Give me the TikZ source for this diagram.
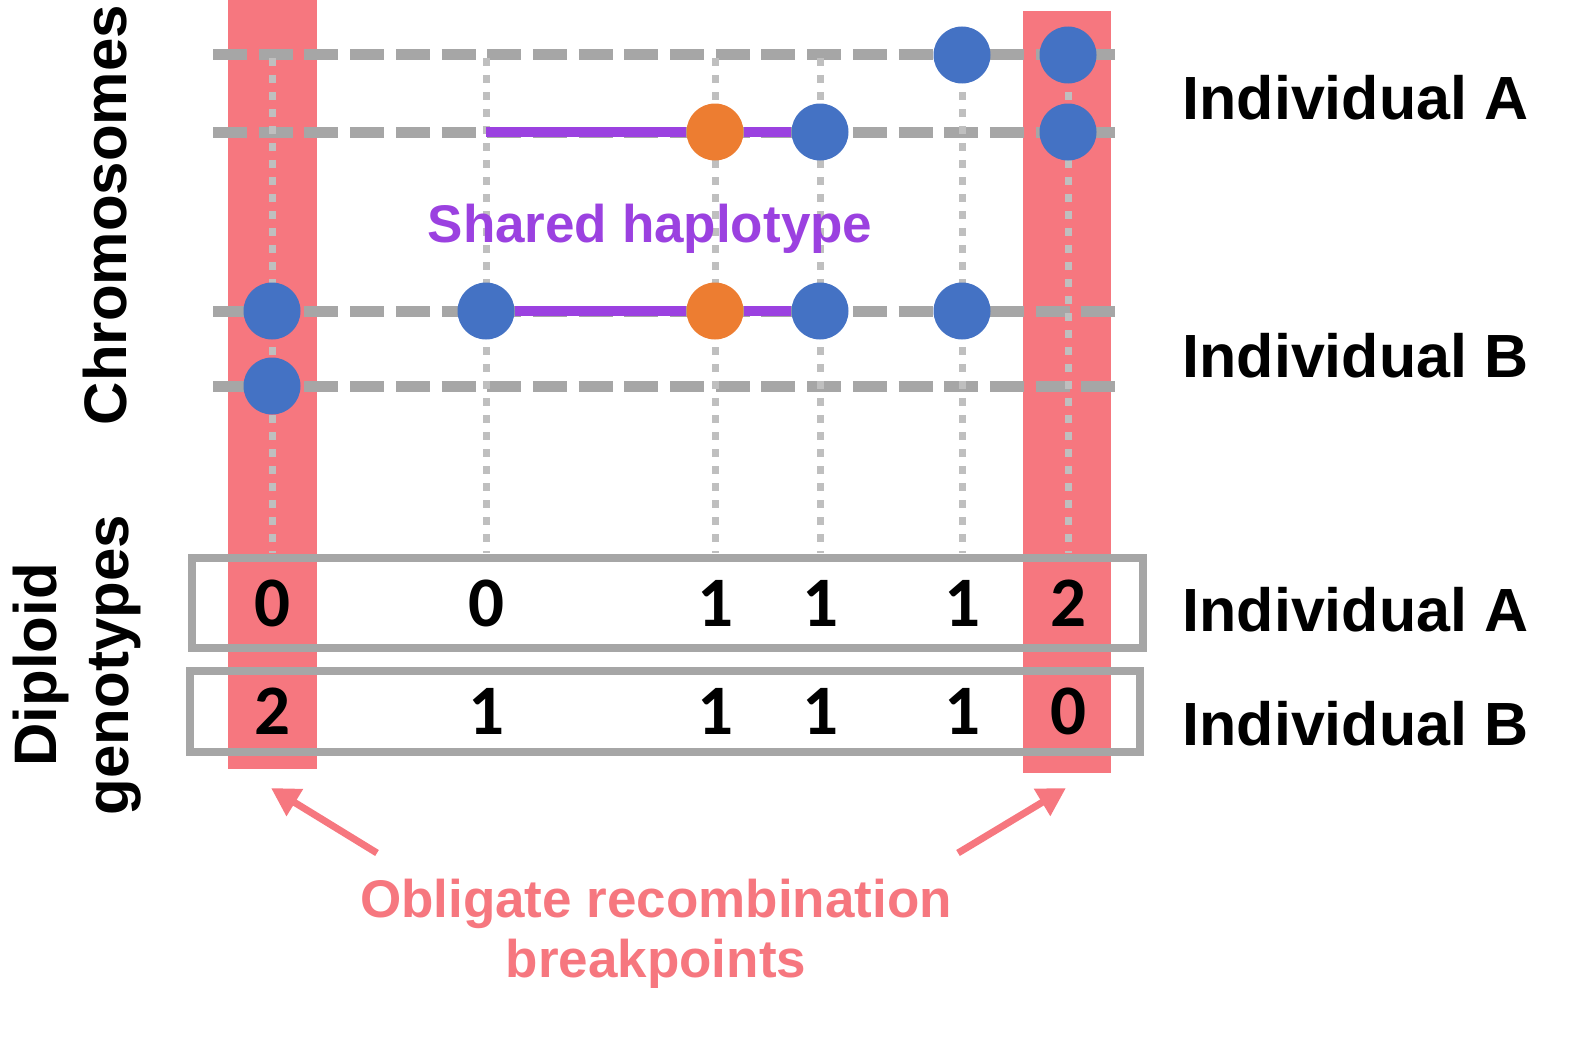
\documentclass[tikz,border=0pt]{standalone}
\usepackage{fontspec}
\setmainfont{Liberation Sans}
\newfontfamily\digitfont{Carlito}
\usepackage{xcolor}
\usepackage{tikz}
\usetikzlibrary{arrows.meta, positioning}

\definecolor{barred}{HTML}{F6777F}
\definecolor{snpblue}{HTML}{4472C4}
\definecolor{snporange}{HTML}{ED7D31}
\definecolor{haplo}{HTML}{9B41E0}
\definecolor{chromgray}{HTML}{A6A6A6}
\definecolor{sitegray}{HTML}{BFBFBF}

\begin{document}
\begin{tikzpicture}[
            x=1pt, y=-1pt,
            bar/.style={fill=barred},
            chrom/.style={draw=chromgray, line width=11pt, dash pattern=on 34pt off 11.7pt},
            site/.style={draw=sitegray, line width=7pt, dash pattern=on 8pt off 9pt},
            snp/.style={circle, fill=snpblue, minimum size=57pt, inner sep=0pt},
            minor/.style={snp, fill=snporange},
            shared/.style={draw=haplo, line width=10pt},
            genobox/.style={draw=chromgray, line width=8pt, inner sep=0pt},
            geno/.style={font=\digitfont\bfseries\fontsize{71}{84}\selectfont, anchor=base},
            sidetext/.style={font=\bfseries\fontsize{61}{72}\selectfont, anchor=base west},
            pointer/.style={-{Triangle[length=28pt, width=30pt]}, draw=barred, line width=7pt}
        ]

        \useasboundingbox (0,0) rectangle (1582,1041);

        % Breakpoint bars
        \fill[bar] (228,0) rectangle (317,769);
        \fill[bar] (1023,11) rectangle (1111,773);

        % Chromosomes (two per individual)
        \coordinate (ha1w) at (213,55);  \coordinate (ha1e) at (1115,55);
        \coordinate (ha2w) at (213,132); \coordinate (ha2e) at (1115,132);
        \coordinate (hb1w) at (213,311); \coordinate (hb1e) at (1115,311);
        \coordinate (hb2w) at (213,386); \coordinate (hb2e) at (1115,386);

        \draw[chrom] (ha1w) -- (ha1e);
        \draw[chrom] (ha2w) -- (ha2e);
        \draw[chrom] (hb1w) -- (hb1e);
        \draw[chrom] (hb2w) -- (hb2e);

        % Marker positions
        \draw[site] (272,58) -- (272,553);
        \draw[site] (486,58) -- (486,553);
        \draw[site] (715,58) -- (715,553);
        \draw[site] (820,58) -- (820,553);
        \draw[site] (962,58) -- (962,553);
        \draw[site] (1068,58) -- (1068,553);

        % Alleles
        \node[snp] (a1e) at (962,55) {};
        \node[snp] (a1f) at (1068,55) {};

        \coordinate (a2b) at (486,132);
        \node[minor] (a2c) at (715,132) {};
        \node[snp] (a2d) at (820,132) {};
        \node[snp] (a2f) at (1068,132) {};

        \node[snp] (b1a) at (272,311) {};
        \node[snp] (b1b) at (486,311) {};
        \node[minor] (b1c) at (715,311) {};
        \node[snp] (b1d) at (820,311) {};
        \node[snp] (b1e) at (962,311) {};

        \node[snp] (b2a) at (272,386) {};

        % Shared haplotype
        \draw[shared] (a2b) -- (a2c) -- (a2d);
        \draw[shared] (b1b) -- (b1c) -- (b1d);
        \node[font=\bfseries\fontsize{53}{60}\selectfont, text=haplo, anchor=base] (sharedtxt) at (650,242) {Shared haplotype};

        % Diploid genotypes
        \node[genobox, minimum width=951pt, minimum height=90pt] (rowA) at (667.5,602.5) {};
        \node[genobox, minimum width=950.5pt, minimum height=81pt] (rowB) at (664.75,711) {};

        \node[geno] (gA1) at (272,626) {0};
        \node[geno] (gA2) at (486,626) {0};
        \node[geno] (gA3) at (715,626) {1};
        \node[geno] (gA4) at (820,626) {1};
        \node[geno] (gA5) at (962,626) {1};
        \node[geno] (gA6) at (1068,626) {2};

        \node[geno] (gB1) at (272,734) {2};
        \node[geno] (gB2) at (486,734) {1};
        \node[geno] (gB3) at (715,734) {1};
        \node[geno] (gB4) at (820,734) {1};
        \node[geno] (gB5) at (962,734) {1};
        \node[geno] (gB6) at (1068,734) {0};

        % Side labels
        \node[font=\bfseries\fontsize{60}{70}\selectfont, rotate=90, anchor=base] (chromtxt) at (126,215) {Chromosomes};
        \node[font=\bfseries\fontsize{60}{72}\selectfont, rotate=90, align=center, inner sep=0pt] (diptxt) at (77,665) {Diploid\\genotypes};

        \node[sidetext] (indA1) at (1179,119) {Individual A};
        \node[sidetext] (indB1) at (1179,377) {Individual B};
        \node[sidetext] (indA2) at (1179,631) {Individual A};
        \node[sidetext] (indB2) at (1179,745) {Individual B};

        % Breakpoints
        \node[font=\bfseries\fontsize{53}{60}\selectfont, text=barred, align=center, inner sep=0pt, anchor=north] (breaktxt) at (656,879) {Obligate recombination\\breakpoints};

        \coordinate (lt) at (377,853);
        \coordinate (lh) at (271,788);
        \coordinate (rt) at (958,853);
        \coordinate (rh) at (1066,788);

        \draw[pointer] (lt) -- (lh);
        \draw[pointer] (rt) -- (rh);

        \end{tikzpicture}
\end{document}
